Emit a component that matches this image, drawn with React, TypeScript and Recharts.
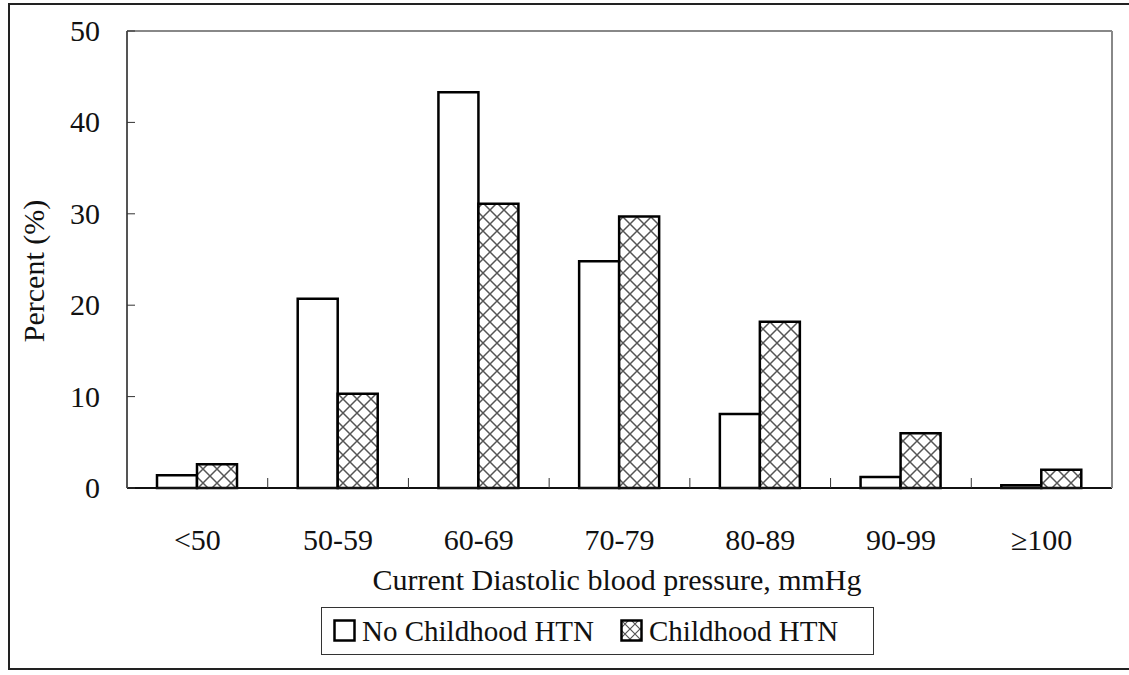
import React from "react";
import { BarChart, Bar, XAxis, YAxis, Label } from "recharts";

const categories = ["<50", "50-59", "60-69", "70-79", "80-89", "90-99", "≥100"];
const noChildhoodHtn = [1.4, 20.7, 43.3, 24.8, 8.1, 1.2, 0.3];
const childhoodHtn = [2.6, 10.3, 31.1, 29.7, 18.2, 6.0, 2.0];
const yTicks = [0, 10, 20, 30, 40, 50];

const data = categories.map((name, i) => ({
    name,
    no: noChildhoodHtn[i],
    child: childhoodHtn[i]
}));

const FONT = "Liberation Serif";
const PLOT_LEFT = 127;
const PLOT_RIGHT = 1112;
const BAND = (PLOT_RIGHT - PLOT_LEFT) / categories.length;

const YTick = (props: any) => {
    const { x, y, payload } = props;
    return (
        <g>
            <line x1={x} x2={x + 8} y1={y} y2={y} stroke="#333" strokeWidth={1} />
            <text x={x - 27} y={y + 10} textAnchor="end" style={{ fontFamily: FONT, fontSize: 30 }} fill="#111">
                {payload.value}
            </text>
        </g>
    );
};

const XTick = (props: any) => {
    const { x, y, payload, index } = props;
    return (
        <g>
            {index > 0 && (
                <line x1={x - BAND / 2} x2={x - BAND / 2} y1={y} y2={y - 10} stroke="#333" strokeWidth={1} />
            )}
            <text x={x} y={y + 62} textAnchor="middle" style={{ fontFamily: FONT, fontSize: 30 }} fill="#111">
                {payload.value}
            </text>
        </g>
    );
};

const LegendBox = () => (
    <div
        style={{
            position: "absolute",
            left: 321,
            top: 607,
            width: 553,
            height: 48,
            border: "1px solid #333",
            display: "flex",
            alignItems: "center",
            whiteSpace: "nowrap",
            fontFamily: FONT,
            fontSize: 29,
            color: "#111",
            boxSizing: "border-box"
        }}>
        <svg width={24} height={24} style={{ marginLeft: 11, marginRight: 5 }}>
            <rect x={1.5} y={1.5} width={20} height={20} fill="#fff" stroke="#000" strokeWidth={2.5} />
        </svg>
        <span>No Childhood HTN</span>
        <svg width={24} height={24} style={{ marginLeft: 26, marginRight: 5 }}>
            <rect x={1.5} y={1.5} width={20} height={20} fill="url(#hatch-small)" stroke="#000" strokeWidth={2.5} />
        </svg>
        <span>Childhood HTN</span>
    </div>
);

const App = () => {
    return (
        <div style={{ position: "absolute", left: 0, top: 0, width: 1129, height: 675, background: "#fff", fontFamily: FONT }}>
            <svg width={0} height={0} style={{ position: "absolute" }}>
                <defs>
                    <pattern id="hatch" width={14} height={14} patternUnits="userSpaceOnUse">
                        <rect width={14} height={14} fill="#fff" />
                        <path d="M0,0 L14,14 M14,0 L0,14" stroke="#555" strokeWidth={1.5} />
                    </pattern>
                    <pattern id="hatch-small" width={10} height={10} patternUnits="userSpaceOnUse">
                        <rect width={10} height={10} fill="#fff" />
                        <path d="M0,0 L10,10 M10,0 L0,10" stroke="#555" strokeWidth={1.2} />
                    </pattern>
                </defs>
            </svg>
            <div
                style={{
                    position: "absolute",
                    left: 8,
                    top: 3,
                    width: 1129 - 8,
                    height: 670 - 3,
                    borderLeft: "2px solid #222",
                    borderTop: "2px solid #222",
                    borderBottom: "2px solid #222",
                    boxSizing: "border-box"
                }}
            />
            <div style={{ position: "absolute", left: 0, top: 0 }}>
                <BarChart
                    width={1129}
                    height={675}
                    data={data}
                    barCategoryGap={30}
                    barGap={0}
                    style={{ fontFamily: FONT }}
                    margin={{ top: 30, right: 1129 - PLOT_RIGHT - 1, left: 0, bottom: 0 }}>
                    <XAxis
                        dataKey="name"
                        height={675 - 488}
                        axisLine={{ stroke: "#111", strokeWidth: 2 }}
                        tickLine={false}
                        tickSize={0}
                        tickMargin={0}
                        tick={<XTick />}
                        interval={0}>
                        <Label
                            content={() => (
                                <text x={617} y={590} textAnchor="middle" style={{ fontFamily: FONT, fontSize: 30 }} fill="#111">
                                    Current Diastolic blood pressure, mmHg
                                </text>
                            )}
                        />
                    </XAxis>
                    <XAxis xAxisId="top" orientation="top" dataKey="name" height={1} tick={false} tickLine={false} axisLine={{ stroke: "#888", strokeWidth: 2 }} />
                    <YAxis
                        width={PLOT_LEFT}
                        domain={[0, 50]}
                        ticks={yTicks}
                        axisLine={{ stroke: "#555", strokeWidth: 2 }}
                        tickLine={false}
                        tickSize={0}
                        tickMargin={0}
                        tick={<YTick />}>
                        <Label
                            content={() => (
                                <text
                                    x={33}
                                    y={271}
                                    transform="rotate(-90 33 271)"
                                    textAnchor="middle"
                                    dominantBaseline="central"
                                    style={{ fontFamily: FONT, fontSize: 30 }}
                                    fill="#111">
                                    Percent (%)
                                </text>
                            )}
                        />
                    </YAxis>
                    <YAxis yAxisId="right" orientation="right" width={1} tick={false} tickLine={false} axisLine={{ stroke: "#888", strokeWidth: 2 }} />
                    <Bar dataKey="no" name="No Childhood HTN" fill="#fff" stroke="#000" strokeWidth={2.5} isAnimationActive={false} />
                    <Bar dataKey="child" name="Childhood HTN" fill="url(#hatch)" stroke="#000" strokeWidth={2.5} isAnimationActive={false} />
                </BarChart>
            </div>
            <LegendBox />
        </div>
    );
};

export default App;
